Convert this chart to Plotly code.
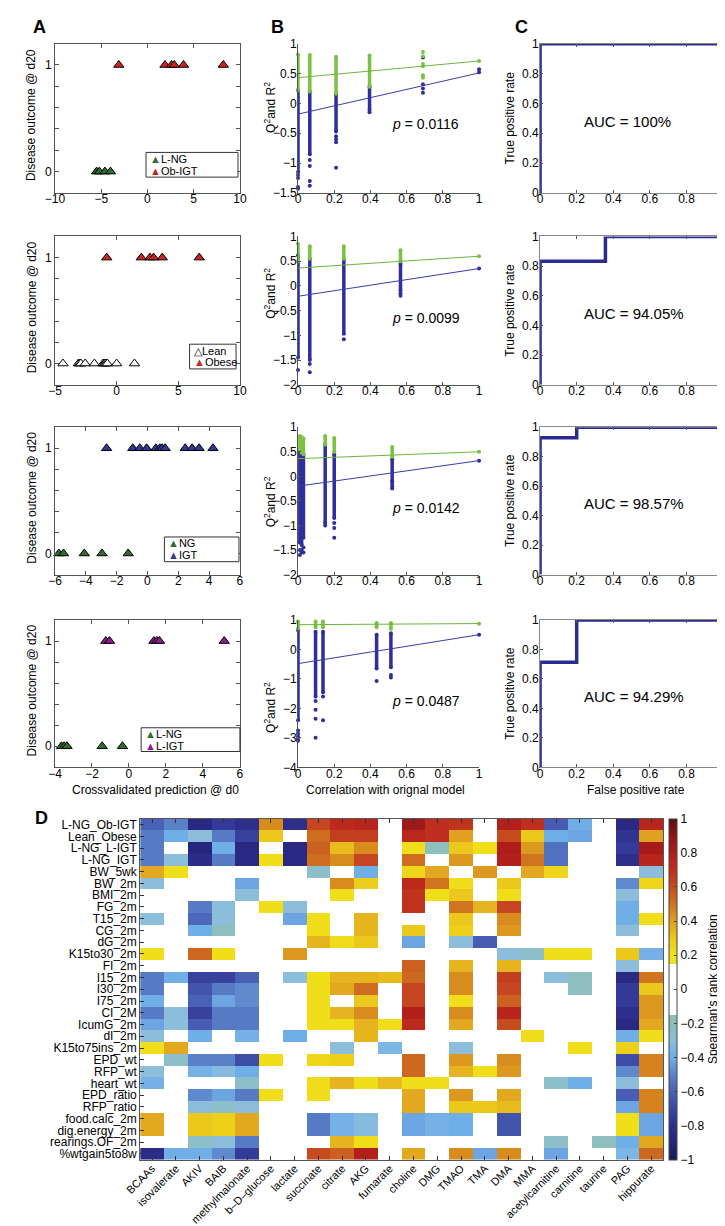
import plotly.graph_objects as go

W, H = 725, 1226
def fx(p): return p / W
def fy(p): return 1 - p / H

FONT = "Liberation Sans, Arial, sans-serif"

# ---------------- Panel A data (crossvalidated prediction vs outcome) ----------------
a1_lng = [-5.5, -5.2, -4.6, -4.0]
a1_obigt = [-3.1, 1.9, 2.6, 2.9, 3.9, 8.2]
a2_lean = [-4.35, -3.1, -3.0, -2.9, -2.55, -1.8, -1.1, -1.0, -0.95, -0.85, -0.75, 0.0, 1.45]
a2_obese = [-0.8, 2.0, 2.7, 3.0, 3.7, 6.7]
a3_ng = [-5.75, -5.45, -4.1, -2.95, -1.25]
a3_igt = [-2.65, -0.95, -0.5, -0.05, 0.55, 0.8, 0.95, 1.15, 2.45, 2.9, 3.35, 4.25]
a4_lng = [-3.65, -3.5, -3.35, -1.45, -0.35]
a4_ligt = [-1.25, -1.05, 1.35, 1.5, 1.65, 5.15]
a_xranges = [[-10, 10], [-5, 10], [-6, 6], [-4, 6]]
a_dticks = [5, 5, 2, 2]

# ---------------- Panel B data (permutation tests) ----------------
b1_seg_x = [0.0, 0.065, 0.21, 0.395]
b1_r2_lo = [0.22, 0.20, 0.16, 0.28]
b1_r2_hi = [0.82, 0.81, 0.78, 0.80]
b1_q2_lo = [-1.15, -0.85, -0.47, -0.11]
b1_q2_hi = [0.22, 0.20, 0.15, 0.28]
b1_q2_dot_x = [0, 0, 0, 0, 0.065, 0.065, 0.065, 0.065, 0.21, 0.21, 0.21, 0.21, 0.395, 0.69, 0.69, 0.69, 0.69, 1.0, 1.0]
b1_q2_dot_y = [-1.2, -1.25, -1.4, -1.43, -0.95, -1.05, -1.3, -1.38, -0.55, -0.6, -0.65, -1.08, -0.15, 0.77, 0.32, 0.25, 0.18, 0.57, 0.52]
b1_r2_dot_x = [0.69, 0.69, 0.69, 0.69, 0.69, 0.69, 1.0]
b1_r2_dot_y = [0.86, 0.79, 0.66, 0.62, 0.47, 0.43, 0.71]
b1_r2_fit = [0.43, 0.71]
b1_q2_fit = [-0.18, 0.51]

b2_seg_x = [0.0, 0.065, 0.253, 0.566]
b2_r2_lo = [0.5, 0.55, 0.55, 0.5]
b2_r2_hi = [0.85, 0.8, 0.8, 0.72]
b2_q2_lo = [-1.45, -1.5, -0.97, -0.1]
b2_q2_hi = [0.62, 0.55, 0.55, 0.45]
b2_q2_dot_x = [0, 0.065, 0.065, 0.253, 0.566, 0.566, 1.0]
b2_q2_dot_y = [-1.7, -1.58, -1.75, -1.08, -0.15, -0.2, 0.35]
b2_r2_dot_x = [1.0]
b2_r2_dot_y = [0.6]
b2_r2_fit = [0.36, 0.6]
b2_q2_fit = [-0.21, 0.35]

b3_seg_x = [0.01, 0.02, 0.03, 0.15, 0.2, 0.52]
b3_r2_lo = [0.55, 0.48, 0.45, 0.65, 0.5, 0.4]
b3_r2_hi = [0.82, 0.8, 0.77, 0.82, 0.78, 0.6]
b3_q2_lo = [-1.35, -1.4, -1.25, -0.95, -0.85, -0.1]
b3_q2_hi = [0.55, 0.48, 0.45, 0.65, 0.45, 0.35]
b3_q2_dot_x = [0.01, 0.01, 0.02, 0.02, 0.03, 0.03, 0.15, 0.2, 0.2, 0.2, 0.52, 0.52, 0.52, 1.0]
b3_q2_dot_y = [-1.5, -1.6, -1.5, -1.55, -1.45, -1.55, -1.0, -0.95, -1.05, -1.25, -0.15, -0.2, -0.25, 0.32]
b3_r2_dot_x = [1.0]
b3_r2_dot_y = [0.5]
b3_r2_fit = [0.36, 0.5]
b3_q2_fit = [-0.2, 0.32]

b4_seg_x = [0.0, 0.097, 0.138, 0.434, 0.513]
b4_r2_lo = [0.7, 0.75, 0.75, 0.75, 0.7]
b4_r2_hi = [0.95, 0.95, 0.95, 0.9, 0.9]
b4_q2_lo = [-2.4, -1.6, -1.45, -0.65, -0.6]
b4_q2_hi = [0.65, 0.6, 0.6, 0.5, 0.55]
b4_q2_dot_x = [0, 0, 0, 0, 0, 0.097, 0.097, 0.097, 0.097, 0.138, 0.138, 0.434, 0.513, 0.513, 1.0]
b4_q2_dot_y = [-2.75, -2.85, -2.95, -3.05, -3.1, -1.75, -2.05, -2.35, -3.0, -1.6, -2.4, -1.07, -0.87, -0.95, 0.5]
b4_r2_dot_x = [1.0]
b4_r2_dot_y = [0.87]
b4_r2_fit = [0.84, 0.88]
b4_q2_fit = [-0.48, 0.5]

b_yranges = [[-1.5, 1], [-2, 1], [-2, 1], [-4, 1]]
b_dticks = [0.5, 0.5, 0.5, 1]
b_pvalues = ["0.0116", "0.0099", "0.0142", "0.0487"]
b_p_y = [-0.35, -0.64, -0.64, -1.75]

# ---------------- Panel C data (ROC curves) ----------------
c1_fpr = [0, 0, 1]
c1_tpr = [0, 1, 1]
c2_fpr = [0, 0, 0.357, 0.357, 1]
c2_tpr = [0, 0.833, 0.833, 1, 1]
c3_fpr = [0, 0, 0.2, 0.2, 1]
c3_tpr = [0, 0.929, 0.929, 1, 1]
c4_fpr = [0, 0, 0.2, 0.2, 1]
c4_tpr = [0, 0.714, 0.714, 1, 1]
c_auc = ["100%", "94.05%", "98.57%", "94.29%"]

# ---------------- Panel D data (Spearman correlations) ----------------
hm_cols = ["BCAAs", "isovalerate", "AKIV", "BAIB", "methylmalonate", "b–D–glucose", "lactate",
           "succinate", "citrate", "AKG", "fumarate", "choline", "DMG", "TMAO", "TMA", "DMA",
           "MMA", "acetylcarnitine", "carnitine", "taurine", "PAG", "hippurate"]
hm_rows = ["L-NG_Ob-IGT", "Lean_Obese", "L-NG_L-IGT", "L-NG_IGT", "BW_5wk", "BW_2m", "BMI_2m",
           "FG_2m", "T15_2m", "CG_2m", "dG_2m", "K15to30_2m", "FI_2m", "I15_2m", "I30_2m",
           "I75_2m", "CI_2M", "IcumG_2m", "dI_2m", "K15to75ins_2m", "EPD_wt", "RFP_wt",
           "heart_wt", "EPD_ratio", "RFP_ratio", "food.calc_2m", "dig.energy_2m",
           "rearings.OF_2m", "%wtgain5to8w"]
hm_z = [
    [-0.6, -0.5, -0.85, -0.75, -0.8, 0.45, -0.8, 0.62, 0.72, 0.75, 0, 0.85, 0.7, 0.68, 0, 0.78, 0.7, -0.62, -0.4, 0, -0.85, 0.75],
    [-0.52, -0.4, -0.3, -0.52, -0.72, 0.3, 0, 0.52, 0.65, 0.65, 0, 0.74, 0.7, 0.4, 0, 0.6, 0.3, -0.4, -0.42, 0, -0.78, 0.4],
    [-0.52, 0, -0.88, -0.4, -0.85, 0, -0.85, 0.55, 0.33, 0.45, 0, 0.22, -0.22, 0.3, 0.22, 0.8, 0.42, -0.55, 0, 0, -0.75, 0.82],
    [-0.52, -0.3, -0.82, -0.52, -0.85, 0.22, -0.85, 0.52, 0.45, 0.62, 0, 0.52, 0, 0.42, 0, 0.78, 0.5, -0.55, 0, 0, -0.8, 0.75],
    [0.38, 0.22, 0, 0, 0, 0, 0, -0.25, 0, -0.4, 0, 0.25, 0.38, 0, 0.42, 0, 0.38, 0.25, 0, 0, 0, -0.3],
    [-0.3, 0, 0, 0, -0.42, 0, 0, 0, 0.45, 0.28, 0, 0.72, 0.5, 0.22, 0, 0.3, 0, 0, 0, 0, -0.48, 0.25],
    [0, 0, 0, 0, -0.3, 0, 0, 0, 0.22, 0, 0, 0.68, 0.22, 0.3, 0, 0.22, 0, 0, 0, 0, -0.3, 0],
    [0, 0, -0.52, -0.3, 0, 0.22, -0.3, 0, 0, 0, 0, 0.68, 0, 0.5, 0.35, 0.62, 0, 0, 0, 0, -0.4, 0],
    [-0.3, 0, -0.58, -0.3, 0, 0, -0.42, 0.22, 0, 0.35, 0, 0, 0, 0.3, 0, 0.45, 0, 0, 0, 0, -0.4, 0.22],
    [0, 0, -0.4, -0.22, 0, 0, 0, 0.22, 0, 0.35, 0, 0.3, 0, 0.27, 0, 0.42, 0, 0, 0, 0, -0.3, 0],
    [0, 0, 0, 0, 0, 0, 0, 0.35, 0.23, 0.3, 0, -0.42, 0, -0.3, -0.62, 0, 0, 0, 0, 0, 0, 0],
    [0.22, 0, 0.53, 0.22, 0, 0, 0.42, 0, 0, 0, 0, 0, 0, 0, 0, -0.3, -0.25, 0.22, 0.22, 0, 0.3, -0.38],
    [0, 0, 0, 0, 0, 0, 0, 0, 0, 0, 0, 0.55, 0, 0.35, 0, 0.35, 0, 0, 0, 0, -0.3, 0],
    [-0.52, -0.4, -0.72, -0.72, -0.6, 0, -0.3, 0.22, 0.35, 0.35, 0.33, 0.53, 0, 0.45, 0, 0.65, 0, -0.3, -0.22, 0, -0.85, 0.5],
    [-0.52, 0, -0.65, -0.52, -0.48, 0, 0, 0.22, 0.38, 0.52, 0, 0.62, 0, 0.45, 0, 0.62, 0, 0, -0.22, 0, -0.75, 0.3],
    [-0.4, 0, -0.6, -0.42, -0.48, 0, 0, 0.22, 0, 0.3, 0, 0.62, 0, 0.22, 0, 0.55, 0, 0, 0, 0, -0.75, 0.42],
    [-0.52, -0.3, -0.72, -0.52, -0.52, 0, 0, 0.22, 0.35, 0.45, 0, 0.78, 0, 0.45, 0, 0.75, 0, 0, 0, 0, -0.8, 0.42],
    [-0.42, -0.3, -0.62, -0.52, -0.52, 0, 0, 0.22, 0.22, 0.35, 0.22, 0.72, 0, 0.38, 0, 0.6, 0, 0, 0, 0, -0.85, 0.38],
    [-0.3, 0, -0.4, 0, -0.38, 0, -0.4, 0, 0, 0.35, 0, 0, 0, 0, 0, 0, 0.22, 0, 0, 0, -0.4, 0.22],
    [0.22, 0.38, 0, 0, 0, 0, 0, 0, -0.3, 0, -0.35, 0, 0, -0.3, 0, 0, 0, 0, 0.22, 0, 0.27, 0],
    [0, -0.25, -0.5, -0.5, -0.68, 0.22, 0, 0.25, 0.27, 0, 0, 0.53, 0, 0.42, 0, 0.45, 0, 0, 0, 0, -0.68, 0.47],
    [-0.3, 0, -0.38, -0.32, -0.4, 0, 0, 0, 0, 0, 0, 0.53, 0, 0.35, 0.22, 0.42, 0, 0, 0, 0, -0.48, 0.47],
    [-0.38, 0, 0, 0, -0.25, 0, 0, 0.23, 0.35, 0.22, 0.33, 0.22, 0.22, 0, 0, 0, 0, -0.25, -0.4, 0, -0.3, 0],
    [0, 0, -0.48, -0.42, -0.52, 0.22, 0, 0.22, 0, 0, 0, 0.38, 0, 0.42, 0, 0.38, 0, 0, 0, 0, -0.62, 0.47],
    [0, 0, -0.3, -0.25, -0.3, 0, 0, 0, 0, 0, 0, 0.38, 0, 0.3, 0.3, 0.33, 0, 0, 0, 0, -0.42, 0.47],
    [0.38, 0, 0.3, 0.27, 0.38, 0, 0, -0.52, -0.38, -0.32, 0, -0.42, -0.38, -0.4, 0, -0.65, 0, 0, 0, 0, 0.22, -0.42],
    [0.38, 0, 0.3, 0.27, 0.38, 0, 0, -0.52, -0.38, -0.32, 0, -0.42, -0.38, -0.4, 0, -0.65, 0, 0, 0, 0, 0.22, -0.42],
    [0, 0, -0.25, -0.3, -0.52, 0, 0, 0, 0.35, 0.22, 0, 0, 0, 0, 0, 0, 0, -0.25, 0, -0.22, -0.4, 0.38],
    [-0.82, -0.4, -0.4, -0.48, -0.75, 0, 0, 0.6, 0.55, 0.78, 0, 0.38, 0, 0.45, -0.42, 0.45, 0, -0.42, 0, 0, -0.35, 0.53],
]

# ---------------- styling ----------------
GREEN_T = "#2f6e2f"; RED_T = "#cc2222"; BLUE_T = "#35359a"; PURP_T = "#8e1d8e"
R2C = "#7cc242"; Q2C = "#2e2e9c"; R2L = "#6db33f"; Q2L = "#3b3bac"
ROC = "#2c2c90"
AXC = "#555555"
TICKF = 12

A_X = (32, 223); B_X = (283, 470); C_X = (533, 722)
ROWS = [(29, 180), (224, 374), (417, 566), (612, 761)]

fig = go.Figure()
layout = dict(width=W, height=H, margin=dict(l=0, r=0, t=0, b=0),
              paper_bgcolor="white", plot_bgcolor="white", showlegend=False,
              font=dict(family=FONT, size=12, color="black"))
annotations = []
shapes = []

def xref(n): return "x" if n == 1 else f"x{n}"
def yref(n): return "y" if n == 1 else f"y{n}"
def xkey(n): return "xaxis" if n == 1 else f"xaxis{n}"
def ykey(n): return "yaxis" if n == 1 else f"yaxis{n}"

def base_axis(**kw):
    d = dict(showline=True, linecolor=AXC, linewidth=1, ticks="inside", ticklen=4,
             tickcolor=AXC, showgrid=False, zeroline=False,
             tickfont=dict(size=TICKF, family=FONT, color="black"))
    d.update(kw)
    return d

def txt(x, y, text, size=12, angle=0, xanchor="center", yanchor="middle", **kw):
    d = dict(x=fx(x), y=fy(y), xref="paper", yref="paper", text=text, showarrow=False,
             font=dict(size=size, family=FONT, color="black"), textangle=angle,
             xanchor=xanchor, yanchor=yanchor)
    d.update(kw)
    annotations.append(d)

def tri(x, level, color, n):
    fig.add_trace(go.Scatter(x=x, y=[level] * len(x), mode="markers", cliponaxis=False,
                             marker=dict(symbol="triangle-up", size=9, color=color,
                                         line=dict(color="black", width=1)),
                             xaxis=xref(n), yaxis=yref(n)))

# ---- Panel A ----
a_groups = [
    [(a1_lng, 0, GREEN_T), (a1_obigt, 1, RED_T)],
    [(a2_lean, 0, "white"), (a2_obese, 1, RED_T)],
    [(a3_ng, 0, GREEN_T), (a3_igt, 1, BLUE_T)],
    [(a4_lng, 0, GREEN_T), (a4_ligt, 1, PURP_T)],
]
a_legends = [
    ((126, 221, 139, 164), [("▲", GREEN_T, "L-NG"), ("▲", RED_T, "Ob-IGT")]),
    ((171, 219, 333, 358), [("△", "black", "Lean"), ("▲", RED_T, "Obese")]),
    ((145, 222, 528, 553), [("▲", GREEN_T, "NG"), ("▲", BLUE_T, "IGT")]),
    ((121, 223, 721, 745), [("▲", GREEN_T, "L-NG"), ("▲", PURP_T, "L-IGT")]),
]
for i in range(4):
    n = i + 1
    top, bot = ROWS[i]
    for vals, lvl, col in a_groups[i]:
        tri(vals, lvl, col, n)
    layout[xkey(n)] = base_axis(domain=[fx(A_X[0]), fx(A_X[1])], anchor=yref(n),
                                range=a_xranges[i], dtick=a_dticks[i], mirror="ticks",
                                ticklabelstandoff=-5)
    layout[ykey(n)] = base_axis(domain=[fy(bot), fy(top)], anchor=xref(n), range=[-0.2, 1.2],
                                tickvals=[0, 1], mirror="ticks",
                                minor=dict(tickvals=[0.2, 0.4, 0.6, 0.8], ticks="inside",
                                           ticklen=4, tickcolor=AXC))
    txt(8, (top + bot) / 2 - 3, "Disease outcome @ d20", size=12, angle=-90)
    (lx0, lx1, ly0, ly1), items = a_legends[i]
    shapes.append(dict(type="rect", xref="paper", yref="paper", x0=fx(lx0), x1=fx(lx1),
                       y0=fy(ly1), y1=fy(ly0), line=dict(color="#333333", width=1),
                       fillcolor="white", layer="above"))
    for k, (sym, col, lab) in enumerate(items):
        txt(lx0 + 2, ly0 + 6.5 + 12 * k,
            f"<span style='color:{col}'>{sym}</span>{lab}", size=11, xanchor="left")
txt(136, 784, "Crossvalidated prediction @ d0", size=12)

# ---- Panel B ----
b_rows = [
    (b1_seg_x, b1_r2_lo, b1_r2_hi, b1_q2_lo, b1_q2_hi, b1_q2_dot_x, b1_q2_dot_y, b1_r2_dot_x, b1_r2_dot_y, b1_r2_fit, b1_q2_fit),
    (b2_seg_x, b2_r2_lo, b2_r2_hi, b2_q2_lo, b2_q2_hi, b2_q2_dot_x, b2_q2_dot_y, b2_r2_dot_x, b2_r2_dot_y, b2_r2_fit, b2_q2_fit),
    (b3_seg_x, b3_r2_lo, b3_r2_hi, b3_q2_lo, b3_q2_hi, b3_q2_dot_x, b3_q2_dot_y, b3_r2_dot_x, b3_r2_dot_y, b3_r2_fit, b3_q2_fit),
    (b4_seg_x, b4_r2_lo, b4_r2_hi, b4_q2_lo, b4_q2_hi, b4_q2_dot_x, b4_q2_dot_y, b4_r2_dot_x, b4_r2_dot_y, b4_r2_fit, b4_q2_fit),
]
b_title_y = [93, 281, 492, 700]

def segs(xs, lo, hi):
    X, Y = [], []
    for x, a, b in zip(xs, lo, hi):
        X += [x, x, None]; Y += [a, b, None]
    return X, Y

for i in range(4):
    n = 5 + i
    top, bot = ROWS[i]
    sx, rlo, rhi, qlo, qhi, qdx, qdy, rdx, rdy, rfit, qfit = b_rows[i]
    ax = dict(xaxis=xref(n), yaxis=yref(n))
    X, Y = segs(sx, qlo, qhi)
    fig.add_trace(go.Scatter(x=X, y=Y, mode="lines+markers", line=dict(color=Q2C, width=3.5),
                             marker=dict(size=4, color=Q2C), cliponaxis=False, **ax))
    fig.add_trace(go.Scatter(x=qdx, y=qdy, mode="markers", marker=dict(size=4, color=Q2C),
                             cliponaxis=False, **ax))
    X, Y = segs(sx, rlo, rhi)
    fig.add_trace(go.Scatter(x=X, y=Y, mode="lines+markers", line=dict(color=R2C, width=3.5),
                             marker=dict(size=4, color=R2C), cliponaxis=False, **ax))
    fig.add_trace(go.Scatter(x=rdx, y=rdy, mode="markers", marker=dict(size=4, color=R2C),
                             cliponaxis=False, **ax))
    fig.add_trace(go.Scatter(x=[0, 1], y=rfit, mode="lines", line=dict(color=R2L, width=1),
                             cliponaxis=False, **ax))
    fig.add_trace(go.Scatter(x=[0, 1], y=qfit, mode="lines", line=dict(color=Q2L, width=1),
                             cliponaxis=False, **ax))
    layout[xkey(n)] = base_axis(domain=[fx(B_X[0]), fx(B_X[1])], anchor=yref(n),
                                range=[0, 1], dtick=0.2, ticklen=3, ticklabelstandoff=-5)
    layout[ykey(n)] = base_axis(domain=[fy(bot), fy(top)], anchor=xref(n),
                                range=b_yranges[i], dtick=b_dticks[i], ticklen=3,
                                ticklabelstandoff=-2)
    txt(254, b_title_y[i], "Q<sup>2</sup>and R<sup>2</sup>", size=12, angle=-90)
    annotations.append(dict(x=0.51, y=b_p_y[i], xref=xref(n), yref=yref(n),
                            text=f"<i>p</i> = {b_pvalues[i]}", showarrow=False,
                            xanchor="left", yanchor="middle",
                            font=dict(size=14, family=FONT, color="black")))
txt(373, 784, "Correlation with orignal model", size=12)

# ---- Panel C ----
c_rows = [(c1_fpr, c1_tpr), (c2_fpr, c2_tpr), (c3_fpr, c3_tpr), (c4_fpr, c4_tpr)]
for i in range(4):
    n = 9 + i
    top, bot = ROWS[i]
    fpr, tpr = c_rows[i]
    fig.add_trace(go.Scatter(x=fpr, y=tpr, mode="lines", line=dict(color=ROC, width=3.5),
                             cliponaxis=False, xaxis=xref(n), yaxis=yref(n)))
    layout[xkey(n)] = base_axis(domain=[fx(C_X[0]), fx(C_X[1])], anchor=yref(n),
                                range=[0, 1], dtick=0.2, mirror="ticks", linecolor="#888888",
                                ticklen=3, ticklabelstandoff=-5)
    layout[ykey(n)] = base_axis(domain=[fy(bot), fy(top)], anchor=xref(n),
                                range=[0, 1], dtick=0.2, mirror="ticks", linecolor="#888888",
                                ticklen=3, ticklabelstandoff=-2)
    txt(502, (top + bot) / 2, "True positive rate", size=12, angle=-90)
    annotations.append(dict(x=0.23, y=0.48, xref=xref(n), yref=yref(n),
                            text=f"AUC = {c_auc[i]}", showarrow=False,
                            xanchor="left", yanchor="middle",
                            font=dict(size=15, family=FONT, color="black")))
txt(632, 784, "False positive rate", size=12)

# ---- Panel D ----
cs_pts = [
    (-1.0, "#1a1a5a"), (-0.9, "#24247a"), (-0.8, "#2e2e8c"), (-0.7, "#3a46a2"),
    (-0.6, "#4a62b6"), (-0.5, "#5a80c8"), (-0.45, "#6898d8"), (-0.4, "#70aee8"),
    (-0.35, "#7cb6e4"), (-0.3, "#8cbedc"), (-0.2, "#8cbfb6"), (-0.15, "#8cbfb6"),
    (-0.1499, "#ffffff"), (0.1499, "#ffffff"), (0.15, "#e6e41c"), (0.2, "#f2e41a"),
    (0.3, "#ecc81c"), (0.4, "#e0a020"), (0.45, "#d88c1e"), (0.5, "#d07420"),
    (0.6, "#c64c20"), (0.7, "#bf2e1e"), (0.8, "#b01c1c"), (0.9, "#8c1616"), (1.0, "#5a0e0e"),
]
colorscale = [[(v + 1) / 2, c] for v, c in cs_pts]
cb_vals = [-1, -0.8, -0.6, -0.4, -0.2, 0, 0.2, 0.4, 0.6, 0.8, 1]
cb_text = ["−1", "−0.8", "−0.6", "−0.4", "−0.2", "0", "0.2", "0.4", "0.6", "0.8", "1"]

HM_X = (120, 660); HM_Y = (813, 1158)
fig.add_trace(go.Heatmap(z=hm_z, x=hm_cols, y=hm_rows, colorscale=colorscale, zmin=-1, zmax=1,
                         xaxis="x13", yaxis="y13",
                         colorbar=dict(x=fx(666), xanchor="left", y=fy(HM_Y[0]), yanchor="top",
                                       len=(HM_Y[1] - HM_Y[0]) / H, lenmode="fraction",
                                       thickness=8, thicknessmode="pixels", outlinewidth=1,
                                       outlinecolor="#444444", ticks="inside", ticklen=3,
                                       tickcolor="#444444", tickvals=cb_vals, ticktext=cb_text,
                                       tickfont=dict(size=12, family=FONT, color="black"),
                                       xpad=0, ypad=0,
                                       title=dict(text="Spearman's rank correlation", side="right",
                                                  font=dict(size=12, family=FONT, color="black")))))
layout["xaxis13"] = dict(domain=[fx(HM_X[0]), fx(HM_X[1])], anchor="y13", showline=True,
                         linecolor=AXC, mirror="ticks", ticks="inside", ticklen=4, tickcolor="#333333",
                         tickangle=-45, showgrid=False, zeroline=False,
                         tickmode="array", tickvals=hm_cols, ticktext=hm_cols,
                         ticklabelstandoff=-3,
                         tickfont=dict(size=11, family=FONT, color="black"))
layout["yaxis13"] = dict(domain=[fy(HM_Y[1]), fy(HM_Y[0])], anchor="x13", showline=True,
                         linecolor=AXC, mirror=True, ticks="inside", ticklen=4, tickcolor="#333333",
                         autorange="reversed", showgrid=False, zeroline=False,
                         tickmode="array", tickvals=hm_rows, ticktext=hm_rows,
                         tickfont=dict(size=12, family=FONT, color="black"))

# panel letters
for lab, x, y in [("A", 7, 12), ("B", 253, 12), ("C", 505, 12), ("D", 9, 812)]:
    txt(x, y, f"<b>{lab}</b>", size=18, xanchor="left")

layout["annotations"] = annotations
layout["shapes"] = shapes
fig.update_layout(**layout)
fig.write_html("out.html")
